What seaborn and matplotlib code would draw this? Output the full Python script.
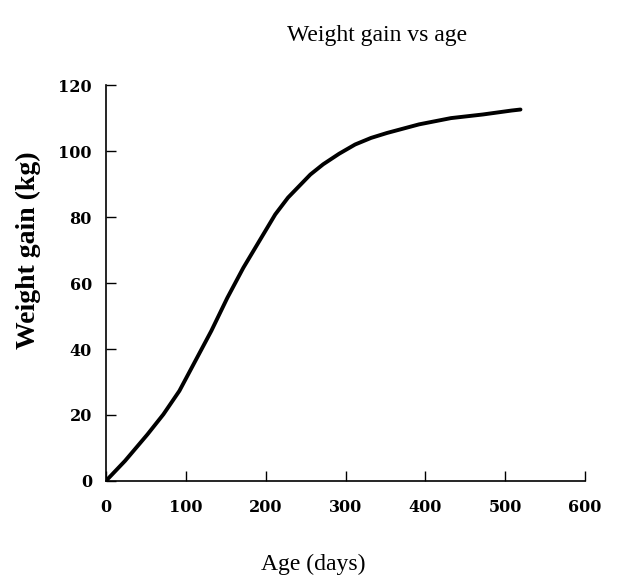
import matplotlib
matplotlib.use("Agg")
import matplotlib.pyplot as plt
import seaborn as sns
import pandas as pd

# 数据：体重增长曲线
age_days = [0, 24, 52, 72, 92, 112, 132, 152, 172, 192, 212, 228, 244, 256, 272, 292,
            312, 332, 352, 392, 432, 472, 508, 519]
weight_gain = [0, 6.1, 14.1, 20.2, 27.3, 36.4, 45.5, 55.5, 64.6, 72.7, 80.8, 85.9, 89.9,
               92.9, 96, 99.2, 102, 104, 105.5, 108.1, 110, 111.1, 112.3, 112.6]
x_ticks = [0, 100, 200, 300, 400, 500, 600]
y_ticks = [0, 20, 40, 60, 80, 100, 120]

sns.set_theme(style="ticks")
plt.rcParams['font.family'] = ['Liberation Serif', 'DejaVu Serif']

df = pd.DataFrame({'age': age_days, 'gain': weight_gain})

fig = plt.figure(figsize=(6.34, 5.83), dpi=100)
ax = fig.add_axes([0.167, 0.175, 0.756, 0.679])

sns.lineplot(data=df, x='age', y='gain', ax=ax, color='black', linewidth=2.8,
             solid_capstyle='round', solid_joinstyle='round')

ax.set_xlim(0, 600)
ax.set_ylim(0, 120)
ax.set_xticks(x_ticks)
ax.set_yticks(y_ticks)
ax.set_xticklabels([str(t) for t in x_ticks], fontfamily='DejaVu Serif',
                   fontweight='bold', fontsize=11.5)
ax.set_yticklabels([str(t) for t in y_ticks], fontfamily='DejaVu Serif',
                   fontweight='bold', fontsize=11.5)
ax.tick_params(direction='in', length=7, width=1, colors='black', pad=10)
ax.tick_params(axis='x', pad=13)
ax.set_xlabel('')
ax.set_ylabel('')
for side in ['top', 'right']:
    ax.spines[side].set_visible(False)
for side in ['left', 'bottom']:
    ax.spines[side].set_color('black')
    ax.spines[side].set_linewidth(1.2)

fig.text(377 / 634, 1 - 35 / 583, 'Weight gain vs age', ha='center', va='center',
         fontsize=17, color='black')
fig.text(313 / 634, 1 - 564 / 583, 'Age (days)', ha='center', va='center',
         fontsize=17, color='black')
fig.text(28 / 634, 1 - 250 / 583, 'Weight gain (kg)', ha='center', va='center',
         rotation=90, fontsize=20, fontweight='bold', color='black')

fig.savefig('out.png', dpi=100, facecolor='white')
